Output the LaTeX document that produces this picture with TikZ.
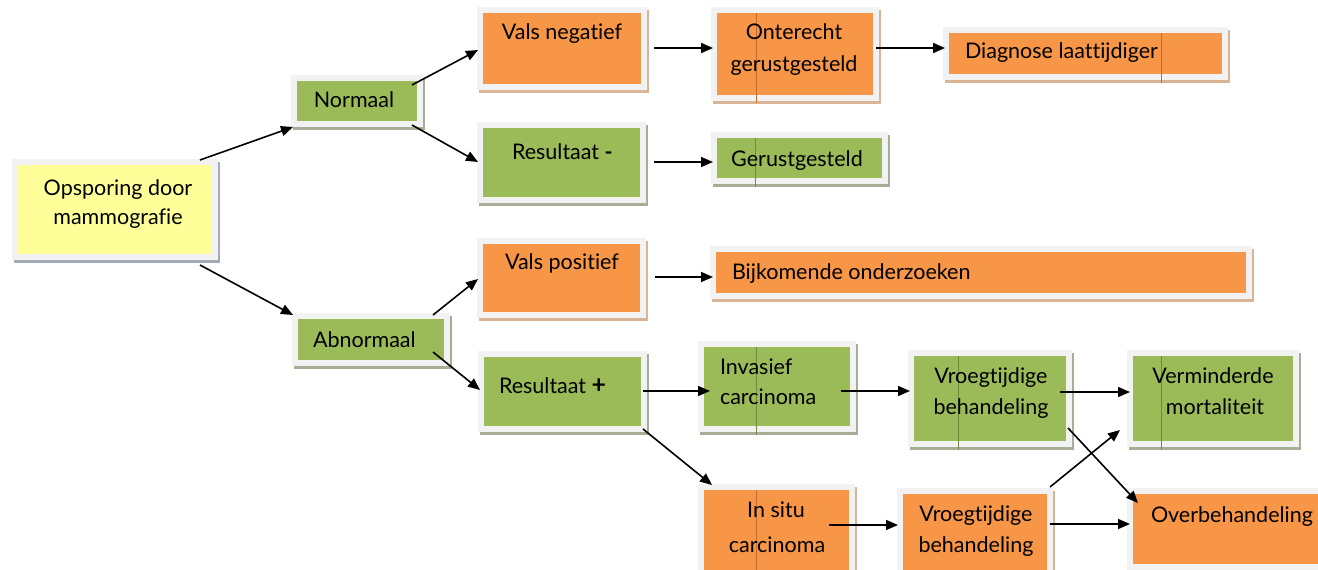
\documentclass[tikz,border=0pt]{standalone}
\usepackage{fontspec}
\setmainfont{Lato}[Ligatures=NoCommon]
\usetikzlibrary{arrows.meta,shadows,calc}
\definecolor{gfill}{HTML}{9BBB59}
\definecolor{ofill}{HTML}{F79646}
\definecolor{yfill}{HTML}{FFFF99}
\definecolor{frm}{HTML}{F2F2F2}
\definecolor{gsh}{HTML}{A7AE98}
\definecolor{osh}{HTML}{D9B497}
\definecolor{ysh}{HTML}{A4AAB8}
\definecolor{gline}{HTML}{6E8B3D}
\definecolor{oline}{HTML}{C46A2C}
\begin{document}
\begin{tikzpicture}[x=1pt,y=-1pt,
  box/.style 2 args={rectangle, inner sep=0pt, outer sep=0pt, fill=frm,
    general shadow={shadow xshift=2pt, shadow yshift=-3pt, fill=#2},
    path picture={\fill[#1] ([shift={(6pt,-6pt)}]path picture bounding box.north west) rectangle ([shift={(-6pt,6pt)}]path picture bounding box.south east);}},
  gbox/.style={box={gfill}{gsh}},
  obox/.style={box={ofill}{osh}},
  ybox/.style={box={yfill}{ysh}},
  txt/.style={font=\fontsize{21.5}{25}\selectfont, inner sep=0pt, outer sep=0pt, anchor=base},
  ltxt/.style={txt, anchor=base west},
  arr/.style={line width=1.6pt, -{Triangle[length=12pt,width=10pt]}},
  gl/.style={gline, line width=0.7pt},
  ol/.style={oline, line width=0.7pt}]
\useasboundingbox (0,0) rectangle (1318,570);
\fill[white] (0,0) rectangle (1318,570);

% boxes
\node[ybox, minimum width=206pt, minimum height=101pt] (opsp) at (115,209.5) {};
\node[gbox, minimum width=132pt, minimum height=52pt] (norm) at (357,101) {};
\node[obox, minimum width=170pt, minimum height=83pt] (valsneg) at (562,48.5) {};
\node[obox, minimum width=168pt, minimum height=94pt] (onter) at (795,54) {};
\node[obox, minimum width=285pt, minimum height=53pt] (diag) at (1085.5,53.5) {};
\node[gbox, minimum width=169pt, minimum height=81pt] (resmin) at (561.5,162.5) {};
\node[gbox, minimum width=177pt, minimum height=52pt] (gerust) at (799.5,158) {};
\node[obox, minimum width=169pt, minimum height=80pt] (valspos) at (561.5,278) {};
\node[obox, minimum width=542pt, minimum height=53pt] (bijk) at (981,272.5) {};
\node[gbox, minimum width=158pt, minimum height=53pt] (abn) at (371,339.5) {};
\node[gbox, minimum width=169pt, minimum height=81pt] (resplus) at (562.5,391.5) {};
\node[gbox, minimum width=158pt, minimum height=91pt] (inv) at (777,386.5) {};
\node[gbox, minimum width=164pt, minimum height=97pt] (vroeg1) at (990,398.5) {};
\node[gbox, minimum width=172pt, minimum height=97pt] (vermin) at (1213,398.5) {};
\node[obox, minimum width=157pt, minimum height=96pt] (insitu) at (776.5,532) {};
\node[obox, minimum width=156pt, minimum height=92pt] (vroeg2) at (975,534) {};
\node[obox, minimum width=199pt, minimum height=82pt] (overb) at (1226.5,529) {};

% faint cell lines inside some boxes
\draw[ol] ($(onter.north west)+(45,6)$) -- ($(onter.south west)+(45,2)$);
\draw[ol] ($(diag.north west)+(218,6)$) -- ($(diag.south west)+(218,3)$);
\draw[gl] ($(gerust.north west)+(44,6)$) -- ($(gerust.south west)+(44,3)$);
\draw[gl] ($(inv.north west)+(58,6)$) -- ($(inv.south west)+(58,3)$);
\draw[gl] ($(vroeg1.north west)+(50,6)$) -- ($(vroeg1.south west)+(50,3)$);
\draw[gl] ($(vermin.north west)+(34,6)$) -- ($(vermin.south west)+(34,3)$);
\draw[ol] ($(insitu.north west)+(58,6)$) -- ($(insitu.south west)+(58,0)$);

% texts
\node[txt] (t1a) at (118,195) {Opsporing door};
\node[txt] (t1b) at (118,224) {mammografie};
\node[txt] (t2) at (354,107) {Normaal};
\node[txt] (t3) at (562,39) {Vals negatief};
\node[txt] (t4a) at (794,39) {Onterecht};
\node[txt] (t4b) at (794,71) {gerustgesteld};
\node[ltxt] (t5) at (965,58) {Diagnose laattijdiger};
\node[ltxt] (t6) at (512,159) {Resultaat \textbf{-}};
\node[txt] (t7) at (797,166) {Gerustgesteld};
\node[txt] (t8) at (562,269) {Vals positief};
\node[ltxt] (t9) at (732,279) {Bijkomende onderzoeken};
\node[ltxt] (t10) at (313,347) {Abnormaal};
\node[ltxt] (t11) at (499,393) {Resultaat {\fontsize{25}{25}\selectfont\textbf{+}}};
\node[ltxt] (t12a) at (720,374) {Invasief};
\node[ltxt] (t12b) at (720,404) {carcinoma};
\node[txt] (t13a) at (991,383) {Vroegtijdige};
\node[txt] (t13b) at (991,414) {behandeling};
\node[txt] (t14a) at (1213,383) {Verminderde};
\node[txt] (t14b) at (1215,414) {mortaliteit};
\node[txt] (t15a) at (776,517) {In situ};
\node[txt] (t15b) at (777,552) {carcinoma};
\node[txt] (t16a) at (976,521) {Vroegtijdige};
\node[txt] (t16b) at (976,552) {behandeling};
\node[txt] (t17) at (1232,522) {Overbehandeling};

% connectors
\draw[arr] ($(opsp.north east)+(-18,1)$) -- ($(norm.south west)+(2,0)$);
\draw[arr] ($(opsp.south east)+(-18,5)$) -- ($(abn.north west)+(1,2)$);
\draw[arr] ($(norm.north east)+(-11,10)$) -- ($(valsneg.west)+(1,1.5)$);
\draw[arr] ($(norm.south east)+(-11,-2)$) -- ($(resmin.west)+(1,-0.5)$);
\draw[arr] ($(valsneg.east)+(7,-0.5)$) -- ($(onter.west)+(2,-6)$);
\draw[arr] ($(onter.east)+(-3,-6)$) -- ($(diag.west)+(2,-5.5)$);
\draw[arr] ($(resmin.east)+(8,-0.5)$) -- ($(gerust.west)+(2,4)$);
\draw[arr] ($(abn.north east)+(-17,2)$) -- ($(valspos.west)+(1,1)$);
\draw[arr] ($(valspos.east)+(9,-1)$) -- ($(bijk.west)+(3,4.5)$);
\draw[arr] ($(abn.south east)+(-17,-14)$) -- ($(resplus.west)+(2,-1.5)$);
\draw[arr] ($(resplus.east)+(-4,-0.5)$) -- ($(inv.west)+(12,4.5)$);
\draw[arr] ($(resplus.south east)+(-4,-3)$) -- ($(insitu.north west)+(14,1)$);
\draw[arr] ($(inv.east)+(-15,4.5)$) -- ($(vroeg1.west)+(2,-7.5)$);
\draw[arr] ($(vroeg1.east)+(-12,-6.5)$) -- ($(vermin.west)+(3,-6.5)$);
\draw[arr] ($(vroeg1.south east)+(-4,-19)$) -- ($(overb.north west)+(11,15)$);
\draw[arr] ($(vroeg2.north east)+(-3,-1)$) -- ($(vermin.south west)+(-7,-17)$);
\draw[arr] ($(insitu.east)+(-26,-7)$) -- ($(vroeg2.west)+(1,-9)$);
\draw[arr] ($(vroeg2.east)+(-3,-10)$) -- ($(overb.west)+(3,-5)$);
\end{tikzpicture}
\end{document}
